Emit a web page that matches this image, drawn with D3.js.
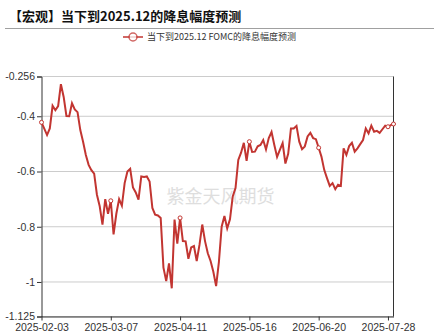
<!DOCTYPE html>
<html>
<head>
<meta charset="utf-8">
<script src="https://cdn.jsdelivr.net/npm/d3@7"></script>
<style>
  html, body { margin: 0; padding: 0; background: #fff; }
  svg { display: block; }
</style>
</head>
<body>
<svg id="chart" width="434" height="335"></svg>
<script>
// ---- data ----
const titleText = "【宏观】当下到2025.12的降息幅度预测";
const seriesName = "当下到2025.12 FOMC的降息幅度预测";
const watermark = "紫金天风期货";

// Trading calendar: weekdays from 2025-02-03 to 2025-07-30,
// plus the 2025-02-08 make-up workday, minus 2025-07-04.
const startDate = "2025-02-03";
const endDate = "2025-07-30";
const extraDates = ["2025-02-08"];
const skipDates = ["2025-07-04"];

const tickDates = ["2025-02-03", "2025-03-07", "2025-04-11", "2025-05-16", "2025-06-20", "2025-07-28"];
const yTicks = [-0.256, -0.4, -0.6, -0.8, -1, -1.125];

// Expected cumulative cut (in %) to the 2025.12 FOMC, one value per trading day
const values = [
  -0.422, -0.445, -0.468, -0.444, -0.362, -0.378, -0.363, -0.284, -0.330, -0.399,
  -0.400, -0.353, -0.375, -0.385, -0.450, -0.492, -0.540, -0.576, -0.595, -0.608,
  -0.684, -0.726, -0.792, -0.700, -0.753, -0.706, -0.828, -0.753, -0.700, -0.724,
  -0.642, -0.600, -0.590, -0.658, -0.676, -0.702, -0.618, -0.620, -0.618, -0.636,
  -0.732, -0.756, -0.759, -0.768, -0.948, -0.997, -0.933, -1.023, -0.774, -0.861,
  -0.768, -0.852, -0.853, -0.916, -0.875, -0.870, -0.924, -0.866, -0.792, -0.852,
  -0.896, -0.924, -0.963, -1.015, -0.928, -0.800, -0.761, -0.806, -0.773, -0.690,
  -0.660, -0.558, -0.532, -0.496, -0.561, -0.492, -0.529, -0.528, -0.509, -0.504,
  -0.486, -0.520, -0.479, -0.457, -0.504, -0.547, -0.522, -0.497, -0.571, -0.536,
  -0.444, -0.444, -0.435, -0.492, -0.519, -0.509, -0.473, -0.460, -0.479, -0.483,
  -0.514, -0.546, -0.594, -0.624, -0.652, -0.642, -0.664, -0.648, -0.652, -0.516,
  -0.540, -0.508, -0.496, -0.528, -0.516, -0.501, -0.486, -0.444, -0.462, -0.434,
  -0.456, -0.453, -0.460, -0.447, -0.434, -0.438, -0.432, -0.428
];

// ---- build the category list ----
const fmt = d3.utcFormat("%Y-%m-%d");
const parse = d3.utcParse("%Y-%m-%d");
let dates = d3.utcDays(parse(startDate), d3.utcDay.offset(parse(endDate), 1))
  .filter(d => d.getUTCDay() !== 0 && d.getUTCDay() !== 6)
  .map(fmt);
dates = dates.concat(extraDates).filter(d => !skipDates.includes(d)).sort();
const data = dates.map((d, i) => ({ date: d, value: values[i] }));

// ---- layout ----
const svg = d3.select("#chart");
const plot = { left: 41.5, right: 393.5, top: 76.5, bottom: 316.5 };
const red = "#c23531";
const axisColor = "#333";
const labelFont = "'Liberation Sans', Arial, sans-serif";
const cjkFont = "'Noto Sans CJK SC', 'Microsoft YaHei', sans-serif";

const x = d3.scalePoint().domain(dates).range([plot.left, plot.right]);
const y = d3.scaleLinear()
  .domain([d3.min(yTicks), d3.max(yTicks)])
  .range([plot.bottom, plot.top]);

// title and separator
svg.append("text")
  .attr("x", 9).attr("y", 21)
  .attr("font-family", cjkFont).attr("font-size", 13).attr("font-weight", "bold")
  .attr("fill", "#111")
  .text(titleText);
svg.append("line")
  .attr("x1", 5).attr("x2", 434).attr("y1", 28.5).attr("y2", 28.5)
  .attr("stroke", "#a0a0a0").attr("stroke-width", 1);

// legend
const lg = svg.append("g").attr("transform", "translate(0,37)");
lg.append("line").attr("x1", 123).attr("x2", 143).attr("y1", 0).attr("y2", 0)
  .attr("stroke", red).attr("stroke-width", 2).attr("opacity", 0.75);
lg.append("circle").attr("cx", 133).attr("cy", 0).attr("r", 4)
  .attr("fill", "#fff").attr("stroke", red).attr("stroke-width", 1.5).attr("opacity", 0.75);
lg.append("text").attr("x", 147).attr("y", 0).attr("dy", "0.35em")
  .attr("font-family", cjkFont).attr("font-size", 9).attr("fill", "#333")
  .text(seriesName);

// horizontal grid lines
svg.append("g").selectAll("line").data(yTicks).join("line")
  .attr("x1", plot.left).attr("x2", plot.right)
  .attr("y1", d => y(d)).attr("y2", d => y(d))
  .attr("stroke", "#ccc").attr("stroke-width", 1);

// watermark
svg.append("text")
  .attr("x", 220.5).attr("y", 196.5).attr("dy", "0.35em")
  .attr("text-anchor", "middle")
  .attr("font-family", cjkFont).attr("font-size", 18)
  .attr("fill", "#dedede")
  .text(watermark);

// y axis
const yAxis = svg.append("g")
  .attr("transform", `translate(${plot.left},0)`)
  .call(d3.axisLeft(y).tickValues(yTicks).tickSize(4.5).tickPadding(2)
    .tickFormat(d => String(d)));
yAxis.select(".domain").attr("stroke", axisColor);
yAxis.selectAll(".tick line").attr("stroke", axisColor);
yAxis.selectAll(".tick text")
  .attr("font-family", labelFont).attr("font-size", 10.5).attr("fill", axisColor);

// x axis
const xAxis = svg.append("g")
  .attr("transform", `translate(0,${plot.bottom})`)
  .call(d3.axisBottom(x).tickValues(tickDates).tickSizeInner(4).tickSizeOuter(0).tickPadding(3));
xAxis.select(".domain").attr("stroke", axisColor);
xAxis.selectAll(".tick line").attr("stroke", axisColor);
xAxis.selectAll(".tick text")
  .attr("font-family", labelFont).attr("font-size", 10.5).attr("fill", axisColor);

// right frame line
svg.append("line")
  .attr("x1", plot.right).attr("x2", plot.right)
  .attr("y1", plot.top).attr("y2", plot.bottom)
  .attr("stroke", axisColor).attr("stroke-width", 1);

// series line
const line = d3.line().x(d => x(d.date)).y(d => y(d.value));
svg.append("path").datum(data)
  .attr("d", line)
  .attr("fill", "none").attr("stroke", red).attr("stroke-width", 2);

// hollow markers on labelled dates and the latest point
const markerDates = new Set(tickDates.concat([dates[dates.length - 1]]));
svg.append("g").selectAll("circle")
  .data(data.filter(d => markerDates.has(d.date)))
  .join("circle")
  .attr("cx", d => x(d.date)).attr("cy", d => y(d.value)).attr("r", 2)
  .attr("fill", "#fff").attr("stroke", red).attr("stroke-width", 1);
</script>
</body>
</html>
